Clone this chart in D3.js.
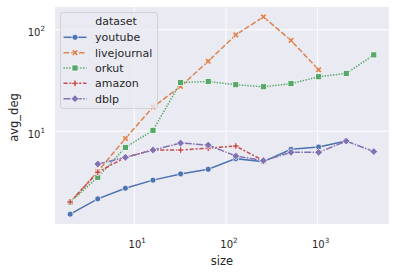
<!DOCTYPE html>
<html><head><meta charset="utf-8">
<script src="https://cdn.jsdelivr.net/npm/d3@7"></script>
<style>body{margin:0;background:#fff}svg{display:block}text{font-family:"DejaVu Sans",sans-serif;fill:#262626}</style>
</head><body>
<script>
const sizes = [2,4,8,16,32,64,128,256,512,1024,2048,4096];
const youtube     = [1.52,2.15,2.74,3.29,3.79,4.21,5.36,5.0,6.62,6.97,7.98,null];
const livejournal = [2.0,4.0,8.47,17.3,27.6,48.9,89,134,78.5,40.3,null,null];
const orkut       = [2.0,3.51,6.92,10.2,30.2,30.9,28.7,27.4,29.4,34.4,37.1,56.5];
const amazon      = [2.0,3.94,5.52,6.52,6.52,6.8,7.13,5.12,null,null,null,null];
const dblp        = [null,4.74,5.52,6.52,7.63,7.3,5.69,5.12,6.18,6.18,7.98,6.29];
const seriesNames = ["youtube","livejournal","orkut","amazon","dblp"];
const seriesVals = [youtube,livejournal,orkut,amazon,dblp];
const colors = ["#4c72b0","#dd8452","#55a868","#c44e52","#8172b3"];
const dashes = [null,"5.6,2.1","1.4,1.4","4.2,1.75,2.1,1.75","7,1.4,1.4,1.4"];
const markers = ["o","X","s","P","D"];
const xTicks = [10,100,1000];
const yTicks = [10,100];

const W=396,H=274, L=55,R=389,T=7,B=224;
const svg=d3.select("body").append("svg").attr("width",W).attr("height",H);

function padLog(ext){const a=Math.log10(ext[0]),b=Math.log10(ext[1]),m=(b-a)*0.05;return [Math.pow(10,a-m),Math.pow(10,b+m)];}
const allY=seriesVals.flat().filter(v=>v!=null);
const x=d3.scaleLog().domain(padLog(d3.extent(sizes))).range([L,R]);
const y=d3.scaleLog().domain(padLog(d3.extent(allY))).range([B,T]);

svg.append("rect").attr("x",L).attr("y",T).attr("width",R-L).attr("height",B-T).attr("fill","#eaeaf2");
const g=svg.append("g");
g.selectAll(".gx").data(xTicks).join("line").attr("x1",d=>x(d)).attr("x2",d=>x(d)).attr("y1",T).attr("y2",B).attr("stroke","#fff").attr("stroke-width",1);
g.selectAll(".gy").data(yTicks).join("line").attr("y1",d=>y(d)).attr("y2",d=>y(d)).attr("x1",L).attr("x2",R).attr("stroke","#fff").attr("stroke-width",1);

function expLabel(sel,d){const e=Math.round(Math.log10(d));sel.append("tspan").text("10");sel.append("tspan").attr("font-size","7.2px").attr("dy","-4.8").text(e);}
svg.selectAll(".xt").data(xTicks).join("text").attr("x",d=>x(d)+3).attr("y",247.5).attr("text-anchor","middle").attr("font-size","10px").each(function(d){expLabel(d3.select(this),d);});
svg.selectAll(".yt").data(yTicks).join("text").attr("x",45).attr("y",d=>y(d)+6.5).attr("text-anchor","end").attr("font-size","10px").each(function(d){expLabel(d3.select(this),d);});
svg.append("text").attr("x",(L+R)/2).attr("y",265).attr("text-anchor","middle").attr("font-size","11.5px").text("size");
svg.append("text").attr("transform",`translate(18,${(T+B)/2+2}) rotate(-90)`).attr("text-anchor","middle").attr("font-size","11.5px").text("avg_deg");

const ms=6;
function drawMarker(sel,m,color){
  const h=ms/2;
  let el;
  if(m==="o") el=sel.append("circle").attr("r",h);
  else if(m==="s") el=sel.append("rect").attr("x",-h).attr("y",-h).attr("width",ms).attr("height",ms);
  else if(m==="D"){const k=h*1.3;el=sel.append("path").attr("d",`M0,${-k}L${k},0L0,${k}L${-k},0Z`);}
  else if(m==="P"){const pts=[[-1,-3],[1,-3],[1,-1],[3,-1],[3,1],[1,1],[1,3],[-1,3],[-1,1],[-3,1],[-3,-1],[-1,-1]].map(p=>[p[0]/6*ms*1.1,p[1]/6*ms*1.1]);el=sel.append("path").attr("d","M"+pts.join("L")+"Z");}
  else if(m==="X"){const pts=[[-1,-2],[0,-1],[1,-2],[2,-1],[1,0],[2,1],[1,2],[0,1],[-1,2],[-2,1],[-1,0],[-2,-1]].map(p=>[p[0]/4*ms*1.1,p[1]/4*ms*1.1]);el=sel.append("path").attr("d","M"+pts.join("L")+"Z");}
  el.attr("fill",color).attr("stroke","#fff").attr("stroke-width",0.7);
}

const line=d3.line().defined(d=>d[1]!=null).x(d=>x(d[0])).y(d=>y(d[1]));
seriesVals.forEach((vals,i)=>{
  const pts=sizes.map((s,j)=>[s,vals[j]]);
  g.append("path").attr("d",line(pts)).attr("fill","none").attr("stroke",colors[i]).attr("stroke-width",1.5).attr("stroke-dasharray",dashes[i]);
});
seriesVals.forEach((vals,i)=>{
  sizes.forEach((s,j)=>{if(vals[j]!=null){const mg=g.append("g").attr("transform",`translate(${x(s)},${y(vals[j])})`);drawMarker(mg,markers[i],colors[i]);}});
});

const lg=svg.append("g");
lg.append("rect").attr("x",60.5).attr("y",12.5).attr("width",97).attr("height",96).attr("rx",2.5).attr("fill","#eaeaf2").attr("fill-opacity",0.8).attr("stroke","#cccccc").attr("stroke-width",0.8);
lg.append("text").attr("x",116).attr("y",24.8).attr("text-anchor","middle").attr("font-size","11px").text("dataset");
seriesNames.forEach((n,i)=>{
  const yy=37.3+i*15.35;
  lg.append("line").attr("x1",63.5).attr("x2",86.5).attr("y1",yy).attr("y2",yy).attr("stroke",colors[i]).attr("stroke-width",1.5).attr("stroke-dasharray",dashes[i]);
  const mg=lg.append("g").attr("transform",`translate(75,${yy})`);drawMarker(mg,markers[i],colors[i]);
  lg.append("text").attr("x",95).attr("y",yy+4).attr("font-size","11px").text(n);
});
</script>
</body></html>
